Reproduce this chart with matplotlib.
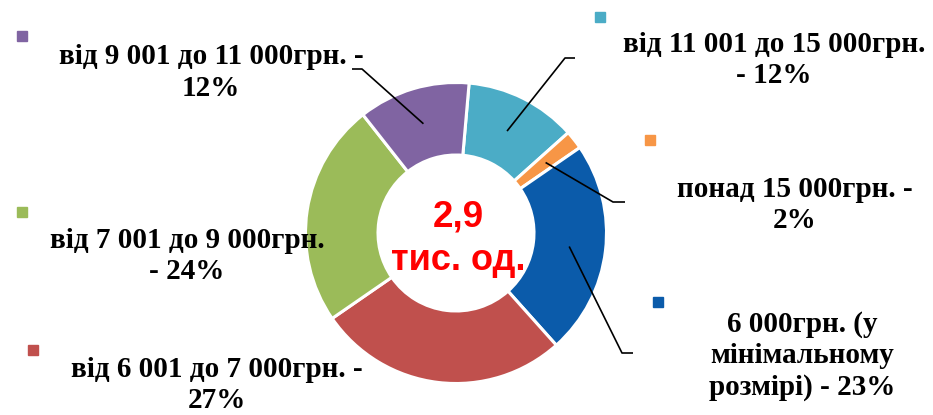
import matplotlib
matplotlib.use("Agg")
import matplotlib.pyplot as plt
import numpy as np

# ---- data ----
categories = [
    "від 11 001 до 15 000грн.\n- 12%",
    "понад 15 000грн. -\n2%",
    "6 000грн. (у\nмінімальному\nрозмірі) - 23%",
    "від 6 001 до 7 000грн. -\n27%",
    "від 7 001 до 9 000грн.\n- 24%",
    "від 9 001 до 11 000грн. -\n12%",
]
values = [12, 2, 23, 27, 24, 12]
colors = ["#4BACC6", "#F79646", "#0B5BAA", "#C0504D", "#9BBB59", "#8064A2"]
center_value = "2,9"
center_unit = "тис. од."

W, H = 933, 415
fig = plt.figure(figsize=(W / 100, H / 100), dpi=100)
ax = fig.add_axes([0, 0, 1, 1])
ax.set_xlim(0, W)
ax.set_ylim(0, H)
ax.axis("off")

def Y(y):
    return H - y

cx, cy = 456, Y(233)
R = 150.5
r_in = 78

wedges, _ = ax.pie(values, colors=colors, startangle=85, counterclock=False,
                   center=(cx, cy), radius=R,
                   wedgeprops=dict(width=R - r_in, edgecolor="white", linewidth=2.2))
ax.set_xlim(0, W)
ax.set_ylim(0, H)
ax.set_aspect("equal")

# label layout (pixel coords)
label_pos = [(774, 60), (795, 205), (802, 356), (217, 385), (187, 256), (211, 72.5)]
marker_pos = [(600, 17), (650, 140), (658, 302), (33, 350), (22, 212), (22, 36)]
# leader: elbow point and end point, None for no leader
leaders = [((565, 58), (575, 58)),
           ((613, 202), (625, 202)),
           ((622, 353), (633, 353)),
           None, None,
           ((362, 69), (352, 69))]

for w, lab, lp, mp, ld, col in zip(wedges, categories, label_pos, marker_pos, leaders, colors):
    ax.text(lp[0], Y(lp[1]), lab, ha="center", va="center", fontsize=21,
            fontweight="bold", family="Liberation Serif", linespacing=1.2)
    ax.plot([mp[0]], [Y(mp[1])], marker="s", markersize=7, color=col, linestyle="none")
    if ld is not None:
        ang = np.deg2rad((w.theta1 + w.theta2) / 2)
        rm = 114
        x0, y0 = cx + rm * np.cos(ang), cy + rm * np.sin(ang)
        ax.plot([x0, ld[0][0], ld[1][0]], [y0, Y(ld[0][1]), Y(ld[1][1])],
                color="black", linewidth=1.2, solid_capstyle="butt")

ax.text(cx + 2, Y(227), center_value, ha="center", va="baseline", fontsize=26.5,
        fontweight="bold", color="#FF0000", family="Liberation Sans")
ax.text(cx + 2, Y(270), center_unit, ha="center", va="baseline", fontsize=26,
        fontweight="bold", color="#FF0000", family="Liberation Sans")

fig.savefig("out.png", dpi=100, facecolor="white")
